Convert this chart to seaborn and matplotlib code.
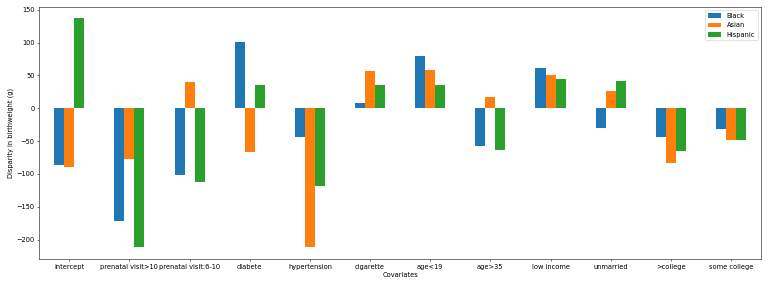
#!/usr/bin/env python3
"""Bar chart of disparity in birthweight by covariate and group."""

import matplotlib
matplotlib.use("Agg")
import matplotlib.pyplot as plt
import seaborn as sns
import pandas as pd

covariates = ['intercept', 'prenatal visit>10', 'prenatal visit:6-10', 'diabete',
              'hypertension', 'cigarette', 'age<19', 'age>35', 'low income',
              'unmarried', '>college', 'some college']
groups = ['Black', 'Asian', 'Hispanic']
black = [-86, -171, -101, 101, -44, 8, 80, -58, 61, -30, -43, -32]
asian = [-90, -78, 40, -66, -212, 57, 58, 17, 50, 26, -84, -48]
hispanic = [137, -212, -112, 35, -118, 36, 36, -63, 45, 41, -65, -48]

df = pd.DataFrame({'Covariates': covariates, 'Black': black,
                   'Asian': asian, 'Hispanic': hispanic})
long_df = df.melt(id_vars='Covariates', var_name='group', value_name='disparity')

fig, ax = plt.subplots(figsize=(16, 6), dpi=48)
sns.barplot(data=long_df, x='Covariates', y='disparity', hue='group',
            hue_order=groups, order=covariates, width=0.5, saturation=1,
            palette=['#1f77b4', '#ff7f0e', '#2ca02c'], linewidth=0,
            errorbar=None, ax=ax)

vmin = min(black + asian + hispanic)
vmax = max(black + asian + hispanic)
pad = (vmax - vmin) * 0.05
ax.set_ylim(vmin - pad, vmax + pad)
ax.set_xlim(-0.5, len(covariates) - 0.5)
ax.set_ylabel('Disparity in birthweight (g)')
ax.set_xlabel('Covariates')
ax.legend(loc='upper right')

plt.subplots_adjust(left=0.051, right=0.991, bottom=0.101, top=0.976)
plt.savefig('out.png', dpi=48)
print("Saved out.png")
